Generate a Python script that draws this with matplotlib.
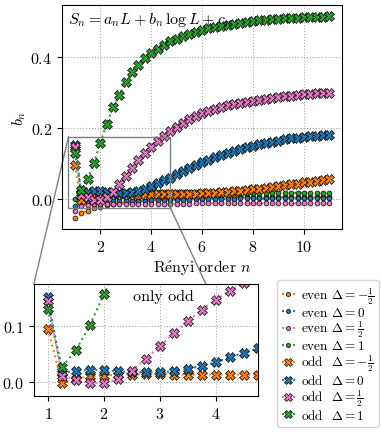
import numpy as np
import matplotlib
matplotlib.use("Agg")
import matplotlib.pyplot as plt
from matplotlib.patches import Rectangle, ConnectionPatch

plt.rcParams['font.family'] = 'serif'
plt.rcParams['font.serif'] = ['cmr10']
plt.rcParams['mathtext.fontset'] = 'cm'
plt.rcParams['axes.formatter.use_mathtext'] = True
plt.rcParams['font.size'] = 11.5

n = np.arange(1, 11.01, 0.25)

# even sectors
even_m12 = [-0.055, -0.041, -0.033, -0.027, -0.022, -0.018, -0.015, -0.012, -0.010, -0.008,
            -0.006, -0.005, -0.003, -0.002, -0.001, 0.000, 0.001, 0.001, 0.002, 0.002,
            0.003, 0.003, 0.003, 0.003, 0.004, 0.004, 0.004, 0.004, 0.004, 0.004,
            0.005, 0.005, 0.005, 0.005, 0.005, 0.005, 0.005, 0.005, 0.005, 0.005, 0.005]
even_0 = [-0.020, -0.012, -0.009, -0.008, -0.007, -0.007, -0.006, -0.006, -0.006, -0.005,
          -0.005, -0.005, -0.004, -0.004, -0.003, -0.003, -0.002, -0.002, -0.002, -0.001,
          -0.001, -0.001, 0.000, 0.000, 0.000, 0.000, 0.001, 0.001, 0.001, 0.001,
          0.001, 0.001, 0.001, 0.001, 0.002, 0.002, 0.002, 0.002, 0.002, 0.002, 0.002]
even_12 = [-0.033, -0.021, -0.017, -0.015, -0.014, -0.014, -0.014, -0.014, -0.014, -0.014,
           -0.014, -0.014, -0.014, -0.014, -0.014, -0.014, -0.014, -0.014, -0.014, -0.013,
           -0.013, -0.013, -0.013, -0.013, -0.013, -0.013, -0.013, -0.013, -0.013, -0.013,
           -0.013, -0.013, -0.013, -0.013, -0.013, -0.013, -0.013, -0.013, -0.013, -0.013, -0.013]
even_1 = [0.000, 0.012, 0.017, 0.019, 0.020, 0.020, 0.020, 0.020, 0.019, 0.019,
          0.019, 0.019, 0.019, 0.019, 0.019, 0.019, 0.019, 0.018, 0.018, 0.018,
          0.018, 0.018, 0.018, 0.018, 0.018, 0.018, 0.017, 0.017, 0.017, 0.017,
          0.017, 0.017, 0.017, 0.017, 0.017, 0.017, 0.017, 0.017, 0.017, 0.017, 0.017]

# odd sectors
odd_m12 = [0.095, -0.002, 0.005, 0.010, 0.011, 0.013, 0.013, 0.014, 0.014, 0.013,
           0.013, 0.013, 0.013, 0.013, 0.013, 0.013, 0.013, 0.013, 0.014, 0.014,
           0.015, 0.016, 0.017, 0.018, 0.020, 0.021, 0.023, 0.025, 0.027, 0.029,
           0.031, 0.033, 0.036, 0.038, 0.041, 0.043, 0.046, 0.048, 0.051, 0.053, 0.055]
odd_0 = [0.151, 0.016, 0.020, 0.021, 0.021, 0.019, 0.017, 0.017, 0.017, 0.019,
         0.023, 0.029, 0.035, 0.044, 0.052, 0.060, 0.069, 0.078, 0.087, 0.095,
         0.103, 0.110, 0.117, 0.123, 0.129, 0.135, 0.140, 0.145, 0.149, 0.153,
         0.157, 0.161, 0.164, 0.167, 0.170, 0.172, 0.174, 0.176, 0.178, 0.180, 0.181]
odd_12 = [0.145, 0.011, 0.004, -0.002, -0.002, 0.005, 0.020, 0.041, 0.064, 0.087,
          0.108, 0.129, 0.147, 0.163, 0.176, 0.190, 0.203, 0.214, 0.224, 0.233,
          0.241, 0.247, 0.253, 0.258, 0.263, 0.267, 0.270, 0.273, 0.276, 0.279,
          0.282, 0.284, 0.286, 0.288, 0.290, 0.292, 0.294, 0.295, 0.297, 0.298, 0.299]
odd_1 = [0.130, 0.026, 0.057, 0.101, 0.157, 0.211, 0.258, 0.293, 0.328, 0.356,
         0.377, 0.395, 0.410, 0.422, 0.434, 0.443, 0.451, 0.458, 0.464, 0.470,
         0.475, 0.480, 0.484, 0.487, 0.490, 0.493, 0.496, 0.498, 0.500, 0.502,
         0.504, 0.505, 0.507, 0.508, 0.509, 0.510, 0.511, 0.512, 0.513, 0.513, 0.514]

colors = ['tab:orange', 'tab:blue', 'tab:pink', 'tab:green']
deltas = [r'-\frac{1}{2}', '0', r'\frac{1}{2}', '1']
even = [even_m12, even_0, even_12, even_1]
odd = [odd_m12, odd_0, odd_12, odd_1]

fig = plt.figure(figsize=(3.81, 4.39), dpi=100)
ax = fig.add_axes([0.163, 0.476, 0.735, 0.510])
ax2 = fig.add_axes([0.089, 0.096, 0.588, 0.255])

for c, d, y in zip(colors, deltas, even):
    ax.plot(n, y, ':', color=c, marker='o', ms=3.5, mec='k', mew=0.5, lw=1.5,
            label=r'even $\Delta=%s$' % d)
for c, d, y in zip(colors, deltas, odd):
    ax.plot(n, y, ':', color=c, marker='X', ms=6.5, mec='k', mew=0.5, lw=1.5,
            label=r'odd  $\Delta=%s$' % d)
    ax2.plot(n, y, ':', color=c, marker='X', ms=6.5, mec='k', mew=0.5, lw=1.5)

ax.set_xlim(0.5, 11.5)
ax.set_ylim(-0.085, 0.545)
ax.set_xticks([2, 4, 6, 8, 10])
ax.set_yticks([0.0, 0.2, 0.4])
ax.grid(True, ls=':', color='0.65', lw=0.8)
ax.set_xlabel(r'R$\mathrm{\acute{e}}$nyi order $n$', labelpad=2)
ax.set_ylabel(r'$b_n$', labelpad=2)
ax.text(0.02, 0.98, r'$S_n = a_nL + b_n\,\log L + c_n$', transform=ax.transAxes,
        ha='left', va='top')

x0, x1, y0, y1 = 0.75, 4.75, -0.025, 0.175
ax2.set_xlim(x0, x1)
ax2.set_ylim(y0, y1)
ax2.set_xticks([1, 2, 3, 4])
ax2.set_yticks([0.0, 0.1])
ax2.grid(True, ls=':', color='0.65', lw=0.8)
ax2.text(0.58, 0.89, 'only odd', transform=ax2.transAxes, ha='center', va='center')

ax.add_patch(Rectangle((x0, y0), x1 - x0, y1 - y0, fill=False, ec='0.5', lw=1, zorder=5))
for xa, ya, xb, yb in [(x0, y1, 0, 1), (x1, y0, 1, 0)]:
    con = ConnectionPatch(xyA=(xa, ya), coordsA=ax.transData, xyB=(xb, yb),
                          coordsB=ax2.transAxes, color='0.5', lw=1)
    ax.add_artist(con)

fig.legend(*ax.get_legend_handles_labels(), loc='upper left',
           bbox_to_anchor=(0.727, 0.359), fontsize=9.5, handlelength=1.0,
           handletextpad=0.5, labelspacing=0.0, borderpad=0.35, borderaxespad=0,
           markerscale=0.85)

fig.savefig('out.png', dpi=100)
